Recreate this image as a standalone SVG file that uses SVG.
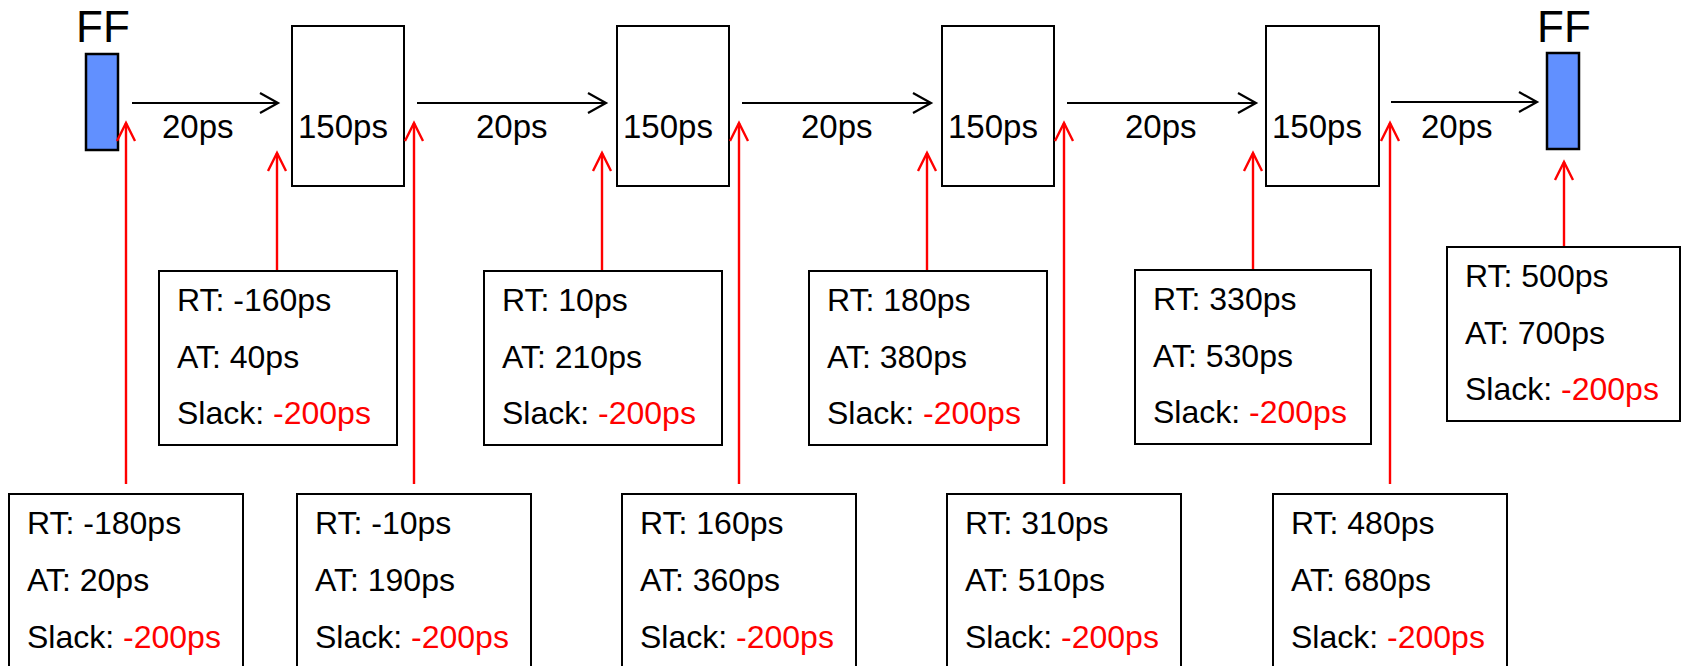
<svg xmlns="http://www.w3.org/2000/svg" width="1681" height="666" viewBox="0 0 1681 666">
<style>
text{font-family:"Liberation Sans",Arial,sans-serif;fill:#000}
.ff{fill:#6190FF;stroke:#000;stroke-width:2.5}
.gate,.box{fill:#fff;stroke:#000;stroke-width:2}
.lbl{font-size:33px}
.ffl{font-size:44px;text-anchor:middle}
.bt{font-size:32px}
.neg{fill:#FF0000}
.w{stroke:#000;stroke-width:2.2;fill:none}
.r{stroke:#FF0000;stroke-width:2.4;fill:none}
</style>
<defs>
<marker id="ab" markerUnits="userSpaceOnUse" markerWidth="24" markerHeight="24" refX="20" refY="12" orient="auto" overflow="visible">
<path d="M2,2 L20,12 L2,22" fill="none" stroke="#000" stroke-width="2.2"/>
</marker>
<marker id="ar" markerUnits="userSpaceOnUse" markerWidth="24" markerHeight="24" refX="20" refY="12" orient="auto" overflow="visible">
<path d="M2,3 L20,12 L2,21" fill="none" stroke="#FF0000" stroke-width="2.4"/>
</marker>
</defs>

<g id="ff-in"><rect class="ff" x="86" y="54" width="32" height="96"/><text class="ffl" x="103" y="42">FF</text></g>
<g id="ff-out"><rect class="ff" x="1547" y="53" width="32" height="96"/><text class="ffl" x="1564" y="42">FF</text></g>

<g id="gate1"><rect class="gate" x="292" y="26" width="112" height="160"/><text class="lbl" x="298" y="138">150ps</text></g>
<g id="gate2"><rect class="gate" x="617" y="26" width="112" height="160"/><text class="lbl" x="623" y="138">150ps</text></g>
<g id="gate3"><rect class="gate" x="942" y="26" width="112" height="160"/><text class="lbl" x="948" y="138">150ps</text></g>
<g id="gate4"><rect class="gate" x="1266" y="26" width="113" height="160"/><text class="lbl" x="1272" y="138">150ps</text></g>

<g id="wire-labels">
<text class="lbl" x="162" y="138">20ps</text>
<text class="lbl" x="476" y="138">20ps</text>
<text class="lbl" x="801" y="138">20ps</text>
<text class="lbl" x="1125" y="138">20ps</text>
<text class="lbl" x="1421" y="138">20ps</text>
</g>

<g id="connectors">
<line class="w" x1="132" y1="103" x2="278" y2="103" marker-end="url(#ab)"/>
<line class="w" x1="417" y1="103" x2="606" y2="103" marker-end="url(#ab)"/>
<line class="w" x1="742" y1="103" x2="931" y2="103" marker-end="url(#ab)"/>
<line class="w" x1="1067" y1="103" x2="1256" y2="103" marker-end="url(#ab)"/>
<line class="w" x1="1391" y1="102" x2="1537" y2="102" marker-end="url(#ab)"/>

<line class="r" x1="126" y1="484" x2="126" y2="123" marker-end="url(#ar)"/>
<line class="r" x1="414" y1="484" x2="414" y2="123" marker-end="url(#ar)"/>
<line class="r" x1="739" y1="484" x2="739" y2="123" marker-end="url(#ar)"/>
<line class="r" x1="1064" y1="484" x2="1064" y2="123" marker-end="url(#ar)"/>
<line class="r" x1="1390" y1="484" x2="1390" y2="123" marker-end="url(#ar)"/>

<line class="r" x1="277" y1="270" x2="277" y2="153" marker-end="url(#ar)"/>
<line class="r" x1="602" y1="270" x2="602" y2="153" marker-end="url(#ar)"/>
<line class="r" x1="927" y1="270" x2="927" y2="153" marker-end="url(#ar)"/>
<line class="r" x1="1253" y1="270" x2="1253" y2="153" marker-end="url(#ar)"/>
<line class="r" x1="1564" y1="246" x2="1564" y2="162" marker-end="url(#ar)"/>
</g>

<g id="upper1"><rect class="box" x="159" y="271" width="238" height="174"/>
<text class="bt" x="177" y="311">RT: -160ps</text><text class="bt" x="177" y="368">AT: 40ps</text><text class="bt" x="177" y="424">Slack: <tspan class="neg">-200ps</tspan></text></g>
<g id="upper2"><rect class="box" x="484" y="271" width="238" height="174"/>
<text class="bt" x="502" y="311">RT: 10ps</text><text class="bt" x="502" y="368">AT: 210ps</text><text class="bt" x="502" y="424">Slack: <tspan class="neg">-200ps</tspan></text></g>
<g id="upper3"><rect class="box" x="809" y="271" width="238" height="174"/>
<text class="bt" x="827" y="311">RT: 180ps</text><text class="bt" x="827" y="368">AT: 380ps</text><text class="bt" x="827" y="424">Slack: <tspan class="neg">-200ps</tspan></text></g>
<g id="upper4"><rect class="box" x="1135" y="270" width="236" height="174"/>
<text class="bt" x="1153" y="310">RT: 330ps</text><text class="bt" x="1153" y="367">AT: 530ps</text><text class="bt" x="1153" y="423">Slack: <tspan class="neg">-200ps</tspan></text></g>
<g id="upper5"><rect class="box" x="1447" y="247" width="233" height="174"/>
<text class="bt" x="1465" y="287">RT: 500ps</text><text class="bt" x="1465" y="344">AT: 700ps</text><text class="bt" x="1465" y="400">Slack: <tspan class="neg">-200ps</tspan></text></g>

<g id="lower0"><rect class="box" x="9" y="494" width="234" height="190"/>
<text class="bt" x="27" y="534">RT: -180ps</text><text class="bt" x="27" y="591">AT: 20ps</text><text class="bt" x="27" y="648">Slack: <tspan class="neg">-200ps</tspan></text></g>
<g id="lower1"><rect class="box" x="297" y="494" width="234" height="190"/>
<text class="bt" x="315" y="534">RT: -10ps</text><text class="bt" x="315" y="591">AT: 190ps</text><text class="bt" x="315" y="648">Slack: <tspan class="neg">-200ps</tspan></text></g>
<g id="lower2"><rect class="box" x="622" y="494" width="234" height="190"/>
<text class="bt" x="640" y="534">RT: 160ps</text><text class="bt" x="640" y="591">AT: 360ps</text><text class="bt" x="640" y="648">Slack: <tspan class="neg">-200ps</tspan></text></g>
<g id="lower3"><rect class="box" x="947" y="494" width="234" height="190"/>
<text class="bt" x="965" y="534">RT: 310ps</text><text class="bt" x="965" y="591">AT: 510ps</text><text class="bt" x="965" y="648">Slack: <tspan class="neg">-200ps</tspan></text></g>
<g id="lower4"><rect class="box" x="1273" y="494" width="234" height="190"/>
<text class="bt" x="1291" y="534">RT: 480ps</text><text class="bt" x="1291" y="591">AT: 680ps</text><text class="bt" x="1291" y="648">Slack: <tspan class="neg">-200ps</tspan></text></g>
</svg>
